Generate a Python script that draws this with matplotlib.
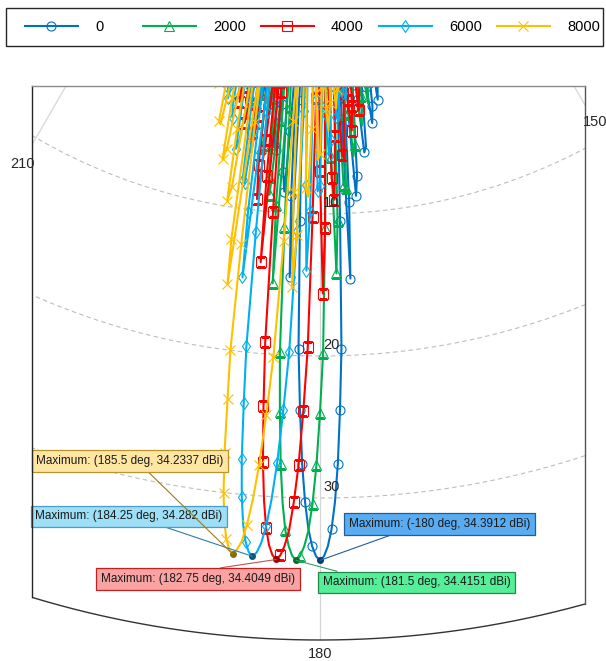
import numpy as np
import matplotlib
matplotlib.use('Agg')
import matplotlib.pyplot as plt
from matplotlib.transforms import Bbox, TransformedBbox

plt.rcParams['font.family'] = ['Liberation Sans', 'DejaVu Sans']

# steering cases
labels = ['0', '2000', '4000', '6000', '8000']
colors = ['#0072C6', '#00B050', '#FF0000', '#00B0F0', '#FFC000']
markers = ['o', '^', 's', 'd', 'x']
msizes = [6.5, 6.5, 6.5, 6.5, 7]

# pattern cuts, 0.25 deg steps, 16 deg wide around each main beam
step = 0.25
start_deg = [172.0, 173.5, 174.75, 176.25, 177.5]

gain_0 = [-3, -7, 1.0, 2.2, -1.5, -5, 2.6, 3.8,
          1.2, -8, -0.5, 5.4, 5.8, 2.0, -10, 1.0,
          7.4, 8.8, 3.5, -5, 9.2, 14.6, -5, 2.0,
          10.5, 19.5, 23.8, 27.6, 30.3, 32.2, 33.4, 34.1,
          34.3912,
          34.1, 33.4, 32.2, 30.3, 27.6, 23.8, 19.5, 10.5,
          2.0, -5, 14.5, 8.8, -4, 4.2, 8.5, 7.1,
          0.5, -9, 2.4, 5.6, 5.3, -1, -7, 1.4,
          3.5, 2.5, -5, -1, 2.1, 1.2, -6, -2]
gain_2000 = [-4, 0.8, 2.4, 0.5, -6, 1.8, 3.9, 2.8,
             -4, 0.5, 5.2, 6.0, 2.5, -9, 3.0, 8.2,
             8.0, 1.0, -6, 10.5, 14.2, 6.0, -4, 2.5,
             11.0, 19.8, 24.0, 27.7, 30.4, 32.3, 33.4, 34.1,
             34.4151,
             34.1, 33.4, 32.3, 30.4, 27.7, 24.0, 19.8, 11.0,
             2.5, -4, 15.0, 9.5, -3, 3.5, 8.8, 7.6,
             1.5, -8, 2.0, 5.4, 5.6, 0.0, -6, 1.8,
             3.9, 2.2, -4, -0.5, 2.3, 1.0, -7, -3]
gain_4000 = [-2, 1.6, 2.8, -1, -6, 2.5, 4.2, 2.0,
             -7, 1.5, 6.1, 5.9, 0.5, -8, 4.5, 9.0,
             7.5, -1, -5, 11.0, 15.6, 7.0, -5, 1.8,
             10.2, 19.4, 23.9, 27.7, 30.3, 32.3, 33.4, 34.1,
             34.4049,
             34.1, 33.4, 32.2, 30.3, 27.6, 23.7, 19.2, 10.0,
             1.5, -6, 13.6, 7.5, -5, 5.0, 9.2, 6.8,
             -1, -7, 3.4, 6.0, 4.6, -3, -5, 2.6,
             4.0, 1.5, -6, 0.5, 2.6, 0.8, -5, -1]
gain_6000 = [-5, 0.5, 2.0, 1.5, -5, 1.0, 3.5, 3.2,
             -3, -2, 4.8, 5.9, 3.0, -7, 2.5, 8.0,
             8.4, 2.0, -6, 9.8, 14.0, 8.0, -3, 2.8,
             11.2, 19.8, 23.9, 27.6, 30.2, 32.1, 33.3, 34.0,
             34.282,
             34.0, 33.3, 32.1, 30.2, 27.5, 23.6, 19.6, 11.5,
             3.0, -3, 14.8, 10.2, -2, 2.8, 8.2, 8.0,
             2.4, -7, 1.5, 5.2, 5.9, 1.0, -8, 1.0,
             3.8, 3.0, -3, -2, 2.5, 1.8, -4, -6]
gain_8000 = [-3, 1.2, 2.6, 0.8, -6, 2.2, 4.1, 2.6,
             -5, 1.0, 5.8, 6.2, 1.5, -8, 4.0, 8.8,
             8.2, 0.5, -5, 11.5, 15.2, 8.5, -2, 3.5,
             12.0, 20.2, 24.3, 27.8, 30.3, 32.1, 33.3, 33.9,
             34.2337,
             33.9, 33.2, 31.9, 30.0, 27.2, 23.4, 20.0, 12.5,
             3.8, -2, 15.4, 12.2, 1.0, -2, 8.6, 9.6,
             4.5, -5, 0.5, 6.0, 6.8, 2.4, -6, 0.5,
             4.4, 4.2, -1, -4, 1.2, 1.6, -2, -5]
gains = [gain_0, gain_2000, gain_4000, gain_6000, gain_8000]

# maxima shown in the data tips
peak_deg = [180.0, 181.5, 182.75, 184.25, 185.5]
peak_dbi = [34.3912, 34.4151, 34.4049, 34.282, 34.2337]
peak_deg_txt = ['-180', '181.5', '182.75', '184.25', '185.5']

ring_vals = [10, 20, 30]
spoke_vals = [150, 180, 210]
r_min, r_max = -30, 40

W, H = 606, 661
fig = plt.figure(figsize=(W / 100, H / 100), dpi=100)

# pattern centre sits above the figure, only the 180 deg sector shows
cx, cy, R = 320, -354, 994
ax = fig.add_axes([(cx - R) / W, 1 - (cy + R) / H, 2 * R / W, 2 * R / H],
                  projection='polar')
ax.set_theta_zero_location('N')
ax.set_theta_direction(-1)
ax.set_rlim(r_min, r_max)
ax.set_xticks([])
ax.set_yticks([])
ax.grid(False)
ax.spines['polar'].set_visible(False)
ax.patch.set_visible(False)

th = np.radians(np.linspace(120, 240, 600))
for rv in ring_vals:
    ax.plot(th, np.full_like(th, rv), ls=(0, (4, 3)), color='#BDBDBD', lw=0.8)
for sv in spoke_vals:
    ax.plot(np.radians([sv, sv]), [r_min, r_max], color='#D6D6D6', lw=0.9)

handles = []
for i in range(5):
    ang = np.arange(start_deg[i], start_deg[i] + 16.001, step)
    ln, = ax.plot(np.radians(ang), gains[i], color=colors[i], lw=1.5,
                  marker=markers[i], ms=msizes[i], mfc='none', mew=0.8,
                  markevery=(0.004 * i, 0.0185), label=labels[i])
    handles.append(ln)

outer, = ax.plot(th, np.full_like(th, r_max), color='#333333', lw=1.0)
outer.set_clip_path(None)

view = TransformedBbox(Bbox.from_extents(32 / W, 0, 585 / W, 1 - 86 / H), fig.transFigure)
for ln in ax.lines:
    ln.set_clip_box(view)

# frame of the zoomed view
def edge_y(x):
    return cy + np.sqrt(R ** 2 - (x - cx) ** 2)

for xs, ys, c in [([32, 32], [86, edge_y(32)], '#262626'),
                  ([585, 585], [86, edge_y(585)], '#555555'),
                  ([32, 585], [86, 86], '#8C8C8C')]:
    fig.add_artist(plt.Line2D(np.array(xs) / W, 1 - np.array(ys) / H,
                              color=c, lw=1.0, transform=fig.transFigure))

for rv in ring_vals:
    ax.annotate(str(rv), xy=(np.pi, rv - 0.8), xytext=(3, 0), textcoords='offset pixels',
                ha='left', va='center', fontsize=10.5, color='#262626')
ax.text(np.pi, 41.0, '180', ha='center', va='center', fontsize=10.5, color='#262626')
fig.text(35 / W, 1 - 164 / H, '210', ha='right', va='center', fontsize=10.5, color='#262626')
fig.text(583 / W, 1 - 122 / H, '150', ha='left', va='center', fontsize=10.5, color='#262626')

# data tips
tip_xy = [(439.5, 524), (416.5, 582.5), (198, 579), (129, 516.5), (130, 461)]
tip_rel = [(0.31, 0.0), (0.18, 1.0), (0.44, 1.0), (0.62, 0.0), (0.57, 0.0)]
tip_face = ['#5AACF2', '#55EE99', '#F9A3A3', '#9CDFF7', '#FFE6A3']
tip_edge = ['#1F5F9F', '#1F8A4C', '#C02020', '#4A9DC4', '#B8952E']
tip_line = ['#1F5F9F', '#3A9A68', '#C85050', '#2E7FA6', '#9C7A1E']
tip_dot = ['#0A3A70', '#0A6A30', '#A00000', '#0A5A80', '#8A6A10']
for i in [0, 1, 2, 3, 4]:
    txt = 'Maximum: ({} deg, {} dBi)'.format(peak_deg_txt[i], peak_dbi[i])
    ax.annotate(txt, xy=(np.radians(peak_deg[i]), peak_dbi[i]),
                xytext=(tip_xy[i][0], H - tip_xy[i][1]), textcoords='figure pixels',
                ha='center', va='center', fontsize=8.5, color='#1A1A1A',
                bbox=dict(boxstyle='square,pad=0.4', fc=tip_face[i], ec=tip_edge[i], lw=0.9),
                arrowprops=dict(arrowstyle='-', color=tip_line[i], lw=0.8,
                                shrinkA=0, shrinkB=0, relpos=tip_rel[i]))
    ax.plot(np.radians(peak_deg[i]), peak_dbi[i], 'o', ms=4, color=tip_dot[i])

# legend: one entry per equal-width slot inside a plain box
fig.add_artist(plt.Rectangle((6 / W, 1 - 46 / H), 597 / W, 38 / H, fill=False,
                             ec='#262626', lw=1.0, transform=fig.transFigure))
for i in range(5):
    fig.legend(handles=[handles[i]], labels=[labels[i]], loc='center left',
               bbox_to_anchor=((25 + 118 * i) / W, 1 - 27 / H), frameon=False,
               fontsize=10.5, handlelength=3.6, handletextpad=1.2,
               borderpad=0, borderaxespad=0)

fig.savefig('out.png', dpi=100)
